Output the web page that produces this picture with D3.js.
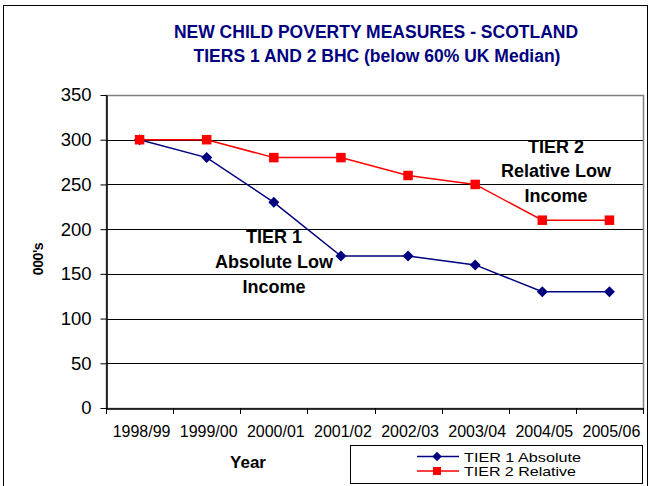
<!DOCTYPE html>
<html><head><meta charset="utf-8">
<script src="https://cdn.jsdelivr.net/npm/d3@7"></script>
<style>body{margin:0;background:#fff}svg{display:block;font-family:"Liberation Sans",Arial,sans-serif}</style>
</head><body>
<svg id="c" width="652" height="486"></svg>
<script>
const categories = ["1998/99","1999/00","2000/01","2001/02","2002/03","2003/04","2004/05","2005/06"];
const tier1 = [300,280,230,170,170,160,130,130];
const tier2 = [300,300,280,280,260,250,210,210];
const yTicks = [0,50,100,150,200,250,300,350];
const seriesNames = ["TIER 1 Absolute","TIER 2 Relative"];

const svg = d3.select("#c");
const L=106, R=643, T=95, B=408;
svg.append("rect").attr("x",3.5).attr("y",5.5).attr("width",644).attr("height",490).attr("fill","none").attr("stroke","#000").attr("stroke-width",1);

const x = d3.scaleBand().domain(categories).range([L,R]);
const y = d3.scaleLinear().domain([0,350]).range([B,T]);

// title
const title = svg.append("text").attr("text-anchor","middle").attr("fill","#000080").attr("font-weight","bold").attr("font-size",17.5);
title.append("tspan").attr("x",376).attr("y",38).text("NEW CHILD POVERTY MEASURES - SCOTLAND");
title.append("tspan").attr("x",377).attr("y",62).text("TIERS 1 AND 2 BHC (below 60% UK Median)");

// gridlines
svg.append("g").selectAll("line").data(yTicks.filter(d=>d>0&&d<350)).join("line")
  .attr("x1",L).attr("x2",R).attr("y1",d=>Math.round(y(d))+0.5).attr("y2",d=>Math.round(y(d))+0.5)
  .attr("stroke","#000").attr("stroke-width",1);
// plot border
svg.append("rect").attr("x",L+0.5).attr("y",T+0.5).attr("width",R-L).attr("height",B-T).attr("fill","none").attr("stroke","#808080").attr("stroke-width",1.5);

// y axis
const ya = svg.append("g").attr("transform",`translate(${L+0.5},0)`)
  .call(d3.axisLeft(y).tickValues(yTicks).tickSize(6).tickSizeOuter(0).tickPadding(9));
ya.select(".domain").attr("stroke","#000").attr("stroke-width",1.5);
ya.selectAll(".tick line").attr("stroke","#000");
ya.selectAll("text").attr("font-size",18.5).attr("font-family","Liberation Sans, Arial").attr("fill","#000");

// x axis
const xa = svg.append("g").attr("transform",`translate(0,${B+0.5})`)
  .call(d3.axisBottom(x).tickSize(0).tickPadding(17));
xa.select(".domain").attr("stroke","#000").attr("stroke-width",1.5);
xa.selectAll("text").attr("font-size",16).attr("font-family","Liberation Sans, Arial").attr("fill","#000").attr("dx",2);
const xt = d3.range(categories.length+1).map(i=>L+i*x.step());
svg.append("g").selectAll("line").data(xt).join("line")
  .attr("x1",d=>Math.round(d)+0.5).attr("x2",d=>Math.round(d)+0.5).attr("y1",B).attr("y2",B+6).attr("stroke","#000");

// axis titles
svg.append("text").attr("transform","translate(43,259) rotate(-90)").attr("text-anchor","middle")
  .attr("font-weight","bold").attr("font-size",14).attr("letter-spacing",-0.4).text("000's");
svg.append("text").attr("x",248).attr("y",468).attr("text-anchor","middle").attr("font-weight","bold").attr("font-size",17).text("Year");

const cx = (d,i)=>x(categories[i])+x.bandwidth()/2;
const line = d3.line().x((d,i)=>cx(d,i)).y(d=>y(d));
svg.append("path").datum(tier1).attr("d",line).attr("fill","none").attr("stroke","#000080").attr("stroke-width",1.5);
svg.append("path").datum(tier2).attr("d",line).attr("fill","none").attr("stroke","#ff0000").attr("stroke-width",1.5);
svg.append("g").selectAll("path").data(tier1).join("path")
  .attr("transform",(d,i)=>`translate(${cx(d,i)},${y(d)}) rotate(45)`)
  .attr("d",d3.symbol().type(d3.symbolSquare).size(60)).attr("fill","#000080");
svg.append("g").selectAll("rect").data(tier2).join("rect")
  .attr("x",(d,i)=>cx(d,i)-4.75).attr("y",d=>y(d)-4.75).attr("width",9.5).attr("height",9.5).attr("fill","#ff0000");

// annotations
function ann(xc, ys, lines){
  const t = svg.append("text").attr("text-anchor","middle").attr("font-weight","bold").attr("font-size",18);
  lines.forEach((s,i)=>t.append("tspan").attr("x",xc).attr("y",ys[i]).text(s));
}
ann(274,[243,268,293],["TIER 1","Absolute Low","Income"]);
ann(556,[153,177,202],["TIER 2","Relative Low","Income"]);

// legend
svg.append("rect").attr("x",350.5).attr("y",445.5).attr("width",292).attr("height",38).attr("fill","#fff").attr("stroke","#000");
const lg = svg.append("g");
const legW = [117, 112];
[0,1].forEach(i=>{
  const yy = 456.5 + i*14.5;
  const col = i===0?"#000080":"#ff0000";
  lg.append("line").attr("x1",417).attr("x2",459).attr("y1",yy).attr("y2",yy).attr("stroke",col).attr("stroke-width",1.5);
  if(i===0) lg.append("path").attr("transform",`translate(437,${yy}) rotate(45)`).attr("d",d3.symbol().type(d3.symbolSquare).size(45)).attr("fill",col);
  else lg.append("rect").attr("x",433).attr("y",yy-4).attr("width",8).attr("height",8).attr("fill",col);
  lg.append("text").attr("x",464).attr("y",yy+5.2).attr("font-size",13)
    .attr("textLength",legW[i]).attr("lengthAdjust","spacingAndGlyphs").text(seriesNames[i]);
});
</script>
</body></html>
